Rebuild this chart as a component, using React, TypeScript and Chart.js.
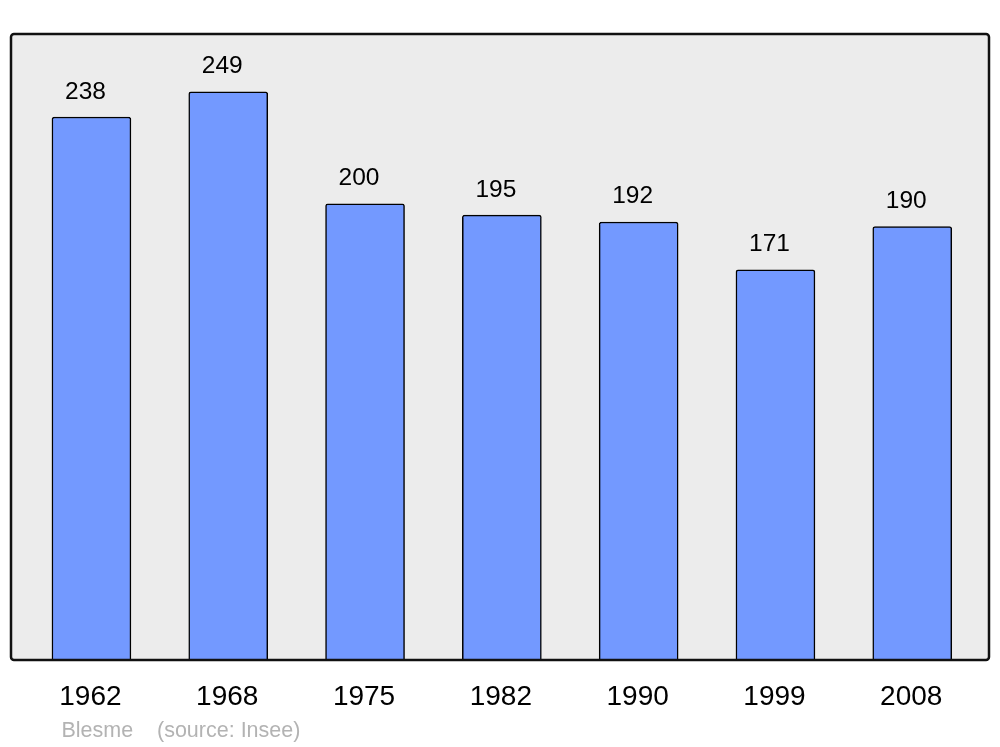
import React, { useEffect, useRef } from "react";
import { Chart, registerables } from "chart.js";

Chart.register(...registerables);

const years: string[] = ["1962", "1968", "1975", "1982", "1990", "1999", "2008"];
const population: number[] = [238, 249, 200, 195, 192, 171, 190];
const commune = "Blesme";
const source = "(source: Insee)";

const FONT = "'Liberation Sans', Arial, sans-serif";

const decorPlugin = {
  id: "decor",
  beforeDatasetsDraw(chart: any) {
    const { ctx, chartArea } = chart;
    const { left, top, right, bottom } = chartArea;
    ctx.save();
    ctx.beginPath();
    ctx.roundRect(left, top, right - left, bottom - top, 3);
    ctx.fillStyle = "#ececec";
    ctx.fill();
    ctx.restore();
  },
  afterDatasetsDraw(chart: any) {
    const { ctx, chartArea, scales } = chart;
    const { left, top, right, bottom } = chartArea;
    ctx.save();
    ctx.beginPath();
    ctx.roundRect(left, top, right - left, bottom - top, 3);
    ctx.lineWidth = 2.5;
    ctx.strokeStyle = "#111111";
    ctx.stroke();

    // value labels
    ctx.fillStyle = "#000000";
    ctx.textAlign = "center";
    ctx.textBaseline = "alphabetic";
    ctx.font = `24.5px ${FONT}`;
    population.forEach((v, i) => {
      const x = scales.x.getPixelForValue(i) - 6;
      const y = scales.y.getPixelForValue(v) - 18.5;
      ctx.fillText(String(v), x, y);
    });

    // year labels
    ctx.font = `28px ${FONT}`;
    years.forEach((yr, i) => {
      const x = scales.x.getPixelForValue(i) - 1;
      ctx.fillText(yr, x, bottom + 45);
    });

    // footer
    ctx.font = `21.5px ${FONT}`;
    ctx.fillStyle = "#b3b3b3";
    ctx.textAlign = "left";
    ctx.fillText(commune, 61.5, 737);
    ctx.fillText(source, 157, 737);
    ctx.restore();
  },
};

export default function App() {
  const ref = useRef<HTMLCanvasElement | null>(null);

  useEffect(() => {
    if (!ref.current) return;
    const chart = new Chart(ref.current, {
      type: "bar",
      data: {
        datasets: [
          {
            data: population.map((v, i) => ({ x: i, y: v })),
            backgroundColor: "#7399ff",
            borderColor: "#000000",
            borderWidth: 1.5,
            borderRadius: { topLeft: 2.5, topRight: 2.5, bottomLeft: 0, bottomRight: 0 },
            borderSkipped: "bottom",
            barThickness: 79,
          },
        ],
      },
      options: {
        responsive: false,
        animation: false,
        layout: { padding: { left: 11, right: 11, top: 34, bottom: 87 } },
        plugins: { legend: { display: false }, tooltip: { enabled: false } },
        scales: {
          x: { type: "linear", min: -0.588, max: 6.561, offset: false, display: false },
          y: { min: 0, max: 274.4, display: false },
        },
      },
      plugins: [decorPlugin],
    });
    return () => chart.destroy();
  }, []);

  return (
    <div style={{ position: "absolute", left: 0, top: 0, width: 1000, height: 747, background: "#ffffff" }}>
      <canvas ref={ref} width={1000} height={747} style={{ display: "block" }} />
    </div>
  );
}
